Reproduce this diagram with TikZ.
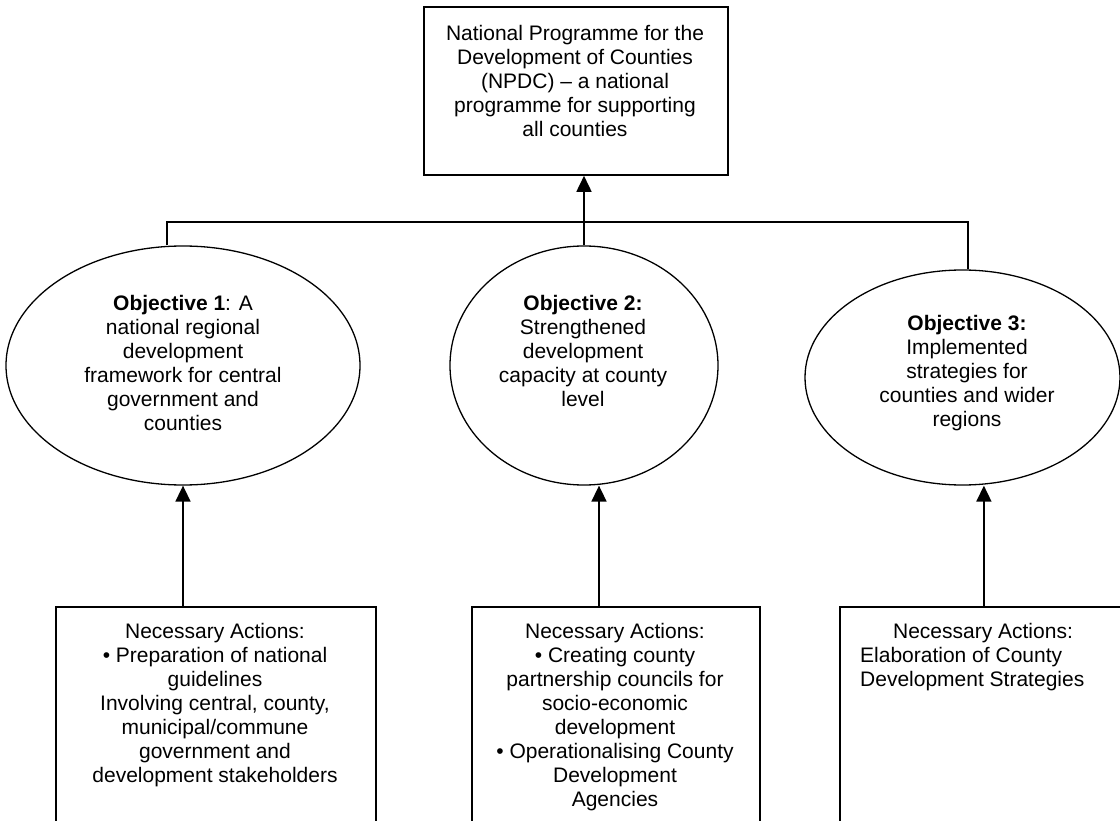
\documentclass[tikz,border=0pt]{standalone}
\usepackage{fontspec}
\setmainfont{Liberation Sans}
\usetikzlibrary{shapes.geometric,arrows.meta}
\begin{document}
\begin{tikzpicture}[x=1pt,y=-1pt,
  box/.style={draw, line width=1.8pt, rectangle, inner sep=0pt},
  oval/.style={draw, line width=1.3pt, ellipse, inner sep=0pt},
  txt/.style={align=center, inner sep=0pt, anchor=north, font=\fontsize{21}{24}\selectfont},
  conn/.style={line width=1.7pt},
  arr/.style={conn, -{Triangle[length=16pt,width=15pt]}}]
\useasboundingbox (0,0) rectangle (1120,821);
\clip (0,0) rectangle (1120,821);
% shapes
\node[box, anchor=north west, minimum width=304pt, minimum height=168pt] (top) at (423,6) {};
\node[oval, minimum width=354pt, minimum height=239pt] (o1) at (183,365.5) {};
\node[oval, minimum width=268pt, minimum height=239pt] (o2) at (584,365.5) {};
\node[oval, minimum width=315pt, minimum height=215pt] (o3) at (962.5,377.5) {};
\node[box, anchor=north west, minimum width=320pt, minimum height=260pt] (b1) at (55,606) {};
\node[box, anchor=north west, minimum width=288pt, minimum height=260pt] (b2) at (471,606) {};
\node[box, anchor=north west, minimum width=288pt, minimum height=260pt] (b3) at (839,606) {};
% connectors
\coordinate (hl) at (167,222);
\coordinate (hr) at (968,222);
\coordinate (a2) at (599,606);
\draw[conn] (hl |- o1.north) -- (hl) -- (hr) -- (hr |- o3.north);
\draw[arr] (o2.north) -- (o2.north |- top.south);
\draw[arr] (o1.south |- b1.north) -- (o1.south);
\draw[arr] (a2) -- (a2 |- o2.south);
\draw[arr] (b3.north) -- (b3.north |- o3.south);
% texts
\node[txt] (ttop) at (575,25) {National Programme for the\\Development of Counties\\(NPDC) – a national\\programme for supporting\\all counties};
\node[txt] (to1) at (183,295) {\textbf{Objective 1}: A\\national regional\\development\\framework for central\\government and\\counties};
\node[txt] (to2) at (583,295) {\textbf{Objective 2:}\\Strengthened\\development\\capacity at county\\level};
\node[txt] (to3) at (967,315) {\textbf{Objective 3:}\\Implemented\\strategies for\\counties and wider\\regions};
\node[txt] (tb1) at (215,623) {Necessary Actions:\\• Preparation of national\\guidelines\\Involving central, county,\\municipal/commune\\government and\\development stakeholders};
\node[txt] (tb2) at (615,623) {Necessary Actions:\\• Creating county\\partnership councils for\\socio-economic\\development\\• Operationalising County\\Development\\Agencies};
\node[txt] (tb3a) at (983,623) {Necessary Actions:};
\node[txt, align=left, anchor=north west] (tb3b) at (860,647) {Elaboration of County\\Development Strategies};
\end{tikzpicture}
\end{document}
